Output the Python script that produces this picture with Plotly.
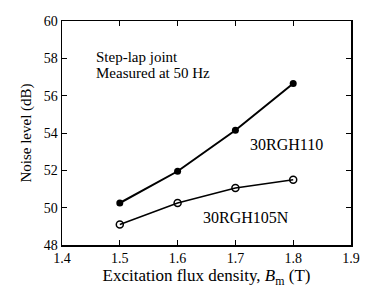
import plotly.graph_objects as go

B = [1.5, 1.6, 1.7, 1.8]
noise_110 = [50.25, 51.95, 54.15, 56.65]
noise_105n = [49.1, 50.25, 51.05, 51.5]
xticks = [1.4, 1.5, 1.6, 1.7, 1.8, 1.9]
yticks = [48, 50, 52, 54, 56, 58, 60]

font = "'Liberation Serif', 'Times New Roman', Times, serif"
fig = go.Figure()
fig.add_trace(go.Scatter(x=B, y=noise_110, mode="lines+markers",
                         line=dict(color="black", width=2),
                         marker=dict(symbol="circle", size=7, color="black"),
                         showlegend=False, hoverinfo="skip"))
fig.add_trace(go.Scatter(x=B, y=noise_105n, mode="lines+markers",
                         line=dict(color="black", width=1.5),
                         marker=dict(symbol="circle-open", size=7, color="black", line=dict(width=1.5)),
                         showlegend=False, hoverinfo="skip"))

axis_common = dict(showline=True, linecolor="black", linewidth=1.5, mirror="ticks",
                   ticks="inside", ticklen=5, tickcolor="black", showgrid=False, zeroline=False,
                   tickfont=dict(family=font, size=14, color="black"))
fig.update_xaxes(range=[1.4, 1.9], tickvals=xticks, ticktext=[f"{v:.1f}" for v in xticks],
                 title=dict(text="Excitation flux density, <i>B</i><sub>m</sub> (T)",
                            font=dict(family=font, size=17, color="black"), standoff=2),
                 **axis_common)
fig.update_yaxes(range=[48, 60], tickvals=yticks,
                 title=dict(text="Noise level (dB)", font=dict(family=font, size=15, color="black"), standoff=8),
                 **axis_common)

fig.add_annotation(x=1.456, y=58.07, text="Step-lap joint", showarrow=False,
                   xanchor="left", yanchor="middle",
                   font=dict(family=font, size=15, color="black"))
fig.add_annotation(x=1.456, y=57.21, text="Measured at 50 Hz", showarrow=False,
                   xanchor="left", yanchor="middle",
                   font=dict(family=font, size=15, color="black"))
fig.add_annotation(x=1.789, y=53.36, text="30RGH110", showarrow=False,
                   font=dict(family=font, size=16, color="black"))
fig.add_annotation(x=1.718, y=49.45, text="30RGH105N", showarrow=False,
                   font=dict(family=font, size=16, color="black"))

fig.update_layout(width=372, height=292, margin=dict(l=62, r=14, t=21, b=47),
                  plot_bgcolor="white", paper_bgcolor="white",
                  font=dict(family=font, color="black"))
fig.write_html("out.html", post_script="document.body.style.margin='0';",
               config={"displayModeBar": False, "staticPlot": True})
